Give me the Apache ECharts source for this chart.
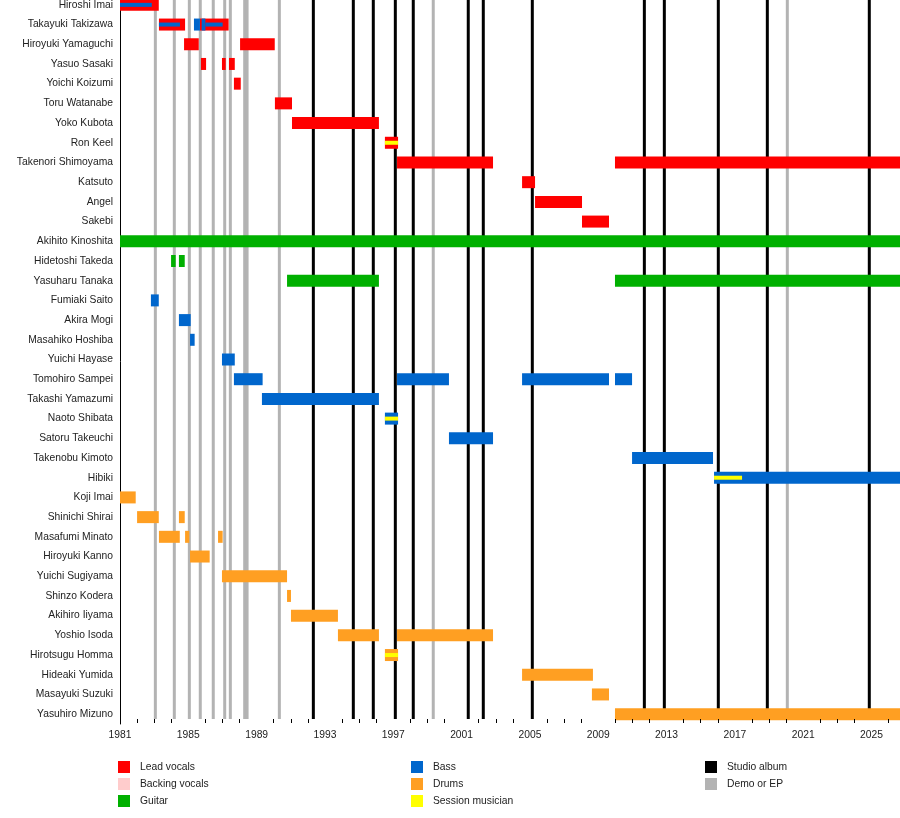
<!DOCTYPE html>
<html>
<head>
<meta charset="utf-8">
<script src="https://cdn.jsdelivr.net/npm/echarts@6/dist/echarts.min.js"></script>
<style>
html, body { margin: 0; padding: 0; background: #fff; }
#chart { width: 900px; height: 818px; }
</style>
</head>
<body>
<div id="chart"></div>
<script>
var members = ['Hiroshi Imai', 'Takayuki Takizawa', 'Hiroyuki Yamaguchi', 'Yasuo Sasaki', 'Yoichi Koizumi',
	'Toru Watanabe', 'Yoko Kubota', 'Ron Keel', 'Takenori Shimoyama', 'Katsuto', 'Angel', 'Sakebi',
	'Akihito Kinoshita', 'Hidetoshi Takeda', 'Yasuharu Tanaka', 'Fumiaki Saito', 'Akira Mogi',
	'Masahiko Hoshiba', 'Yuichi Hayase', 'Tomohiro Sampei', 'Takashi Yamazumi', 'Naoto Shibata',
	'Satoru Takeuchi', 'Takenobu Kimoto', 'Hibiki', 'Koji Imai', 'Shinichi Shirai', 'Masafumi Minato',
	'Hiroyuki Kanno', 'Yuichi Sugiyama', 'Shinzo Kodera', 'Akihiro Iiyama', 'Yoshio Isoda',
	'Hirotsugu Homma', 'Hideaki Yumida', 'Masayuki Suzuki', 'Yasuhiro Mizuno'];

// [member, start, end]
var leadVocals = [
	['Hiroshi Imai', 1981, 1983.27],
	['Takayuki Takizawa', 1983.28, 1984.81],
	['Takayuki Takizawa', 1985.68, 1987.36],
	['Hiroyuki Yamaguchi', 1984.75, 1985.61],
	['Hiroyuki Yamaguchi', 1988.03, 1990.06],
	['Yasuo Sasaki', 1985.74, 1986.04],
	['Yasuo Sasaki', 1986.97, 1987.19],
	['Yasuo Sasaki', 1987.38, 1987.72],
	['Yoichi Koizumi', 1987.67, 1988.07],
	['Toru Watanabe', 1990.07, 1991.07],
	['Yoko Kubota', 1991.07, 1996.16],
	['Ron Keel', 1996.51, 1997.28],
	['Takenori Shimoyama', 1997.22, 2002.84],
	['Takenori Shimoyama', 2009.98, 2027],
	['Katsuto', 2004.54, 2005.30],
	['Angel', 2005.30, 2008.05],
	['Sakebi', 2008.05, 2009.63]
];
var backingVocals = [];
var guitar = [
	['Akihito Kinoshita', 1981, 2027],
	['Hidetoshi Takeda', 1983.99, 1984.26],
	['Hidetoshi Takeda', 1984.45, 1984.79],
	['Yasuharu Tanaka', 1990.78, 1996.16],
	['Yasuharu Tanaka', 2009.98, 2027]
];
var bass = [
	['Takayuki Takizawa', 1985.33, 1985.68],
	['Takayuki Takizawa', 1985.78, 1986.0],
	['Fumiaki Saito', 1982.81, 1983.27],
	['Akira Mogi', 1984.45, 1985.14],
	['Masahiko Hoshiba', 1985.10, 1985.37],
	['Yuichi Hayase', 1986.97, 1987.72],
	['Tomohiro Sampei', 1987.67, 1989.35],
	['Tomohiro Sampei', 1997.22, 2000.26],
	['Tomohiro Sampei', 2004.54, 2009.63],
	['Tomohiro Sampei', 2009.98, 2010.98],
	['Takashi Yamazumi', 1989.31, 1996.16],
	['Naoto Shibata', 1996.51, 1997.28],
	['Satoru Takeuchi', 2000.26, 2002.84],
	['Takenobu Kimoto', 2010.98, 2015.72],
	['Hibiki', 2015.78, 2027]
];
// thin bass stripes drawn inside the vocal bars
var bassStripes = [
	['Hiroshi Imai', 1981, 1982.86],
	['Takayuki Takizawa', 1983.28, 1984.51],
	['Takayuki Takizawa', 1986.0, 1987.01]
];
var drums = [
	['Koji Imai', 1981, 1981.92],
	['Shinichi Shirai', 1982.0, 1983.27],
	['Shinichi Shirai', 1984.45, 1984.79],
	['Masafumi Minato', 1983.28, 1984.50],
	['Masafumi Minato', 1984.81, 1985.06],
	['Masafumi Minato', 1986.74, 1987.01],
	['Hiroyuki Kanno', 1985.10, 1986.25],
	['Yuichi Sugiyama', 1986.97, 1990.78],
	['Shinzo Kodera', 1990.78, 1991.01],
	['Akihiro Iiyama', 1991.01, 1993.76],
	['Yoshio Isoda', 1993.76, 1996.16],
	['Yoshio Isoda', 1997.22, 2002.84],
	['Hirotsugu Homma', 1996.51, 1997.28],
	['Hideaki Yumida', 2004.54, 2008.69],
	['Masayuki Suzuki', 2008.63, 2009.63],
	['Yasuhiro Mizuno', 2009.98, 2027]
];
var session = [
	['Ron Keel', 1996.51, 1997.28],
	['Naoto Shibata', 1996.51, 1997.28],
	['Hibiki', 2015.78, 2017.42],
	['Hirotsugu Homma', 1996.51, 1997.28]
];
var studioAlbums = [1992.32, 1994.66, 1995.83, 1997.12, 1998.17, 2001.39, 2002.27, 2005.14,
	2011.70, 2012.87, 2016.03, 2018.90, 2024.87];
var demos = [1983.07, 1984.18, 1985.06, 1985.70, 1986.46, 1987.13, 1987.46, 1988.30, 1988.44,
	1990.33, 1999.34, 2020.07];

var FONT = 'Liberation Sans';

function toItems(list, thin) {
	return list.map(function (d) {
		return [members.indexOf(d[0]), d[1], d[2], thin];
	});
}

function renderBar(params, api) {
	var row = api.value(0);
	var p0 = api.coord([api.value(1), row]);
	var p1 = api.coord([api.value(2), row]);
	var h = api.value(3) ? 4 : 12;
	var cs = params.coordSys;
	var shape = echarts.graphic.clipRectByRect(
		{ x: p0[0], y: p0[1] - h / 2, width: p1[0] - p0[0], height: h },
		{ x: cs.x, y: cs.y, width: cs.width, height: cs.height }
	);
	return shape && {
		type: 'rect',
		shape: shape,
		style: { fill: api.visual('color') }
	};
}

function renderLine(params, api) {
	var x = api.coord([api.value(0), 0])[0];
	var cs = params.coordSys;
	return {
		type: 'line',
		shape: { x1: x, y1: cs.y + 5, x2: x, y2: cs.y + cs.height - 5 },
		style: { stroke: api.visual('color'), lineWidth: 3 }
	};
}

function barSeries(name, color, data) {
	return {
		name: name,
		type: 'custom',
		renderItem: renderBar,
		itemStyle: { color: color },
		encode: { x: [1, 2], y: 0 },
		data: data
	};
}

function lineSeries(name, color, years) {
	return {
		name: name,
		type: 'custom',
		renderItem: renderLine,
		itemStyle: { color: color },
		encode: { x: 0, y: 1 },
		data: years.map(function (y) { return [y, 0]; })
	};
}

function legendCol(left, names) {
	return {
		orient: 'vertical',
		left: left,
		top: 756,
		icon: 'rect',
		itemWidth: 12,
		itemHeight: 12,
		itemGap: 5,
		selectedMode: false,
		textStyle: { fontFamily: FONT, fontSize: 10.3, color: '#222', padding: [0, 0, 0, 5] },
		data: names
	};
}

var chart = echarts.init(document.getElementById('chart'));
var option = {
	animation: false,
	textStyle: { fontFamily: FONT },
	grid: { left: 120, top: -5, height: 729, width: 46 * 17.08, outerBoundsMode: 'none', containLabel: false },
	legend: [
		legendCol(113, ['Lead vocals', 'Backing vocals', 'Guitar']),
		legendCol(406, ['Bass', 'Drums', 'Session musician']),
		legendCol(700, ['Studio album', 'Demo or EP'])
	],
	xAxis: {
		type: 'value',
		min: 1981,
		max: 2027,
		interval: 4,
		offset: -5,
		z: 10,
		axisLine: { lineStyle: { color: '#000', width: 1 } },
		axisTick: { length: 5, inside: false, lineStyle: { color: '#000' } },
		minorTick: { show: true, splitNumber: 4, length: 4, lineStyle: { color: '#000' } },
		splitLine: { show: false },
		axisLabel: {
			fontSize: 10.3, color: '#222', margin: 11, showMaxLabel: false, fontFamily: FONT,
			formatter: function (v) { return String(v); }
		}
	},
	yAxis: {
		type: 'category',
		data: members,
		inverse: true,
		axisLine: { show: true, lineStyle: { color: '#000', width: 1 } },
		axisTick: { show: false },
		splitLine: { show: false },
		axisLabel: { interval: 0, fontSize: 10.3, color: '#222', margin: 7, fontFamily: FONT }
	},
	series: [
		lineSeries('Studio album', '#000000', studioAlbums),
		lineSeries('Demo or EP', '#b3b3b3', demos),
		barSeries('Lead vocals', '#ff0000', toItems(leadVocals, 0)),
		barSeries('Backing vocals', '#ffcccc', toItems(backingVocals, 0)),
		barSeries('Guitar', '#00b000', toItems(guitar, 0)),
		barSeries('Bass', '#0066cc', toItems(bass, 0).concat(toItems(bassStripes, 1))),
		barSeries('Drums', '#ff9f22', toItems(drums, 0)),
		barSeries('Session musician', '#ffff00', toItems(session, 1))
	]
};
chart.setOption(option);
</script>
</body>
</html>
